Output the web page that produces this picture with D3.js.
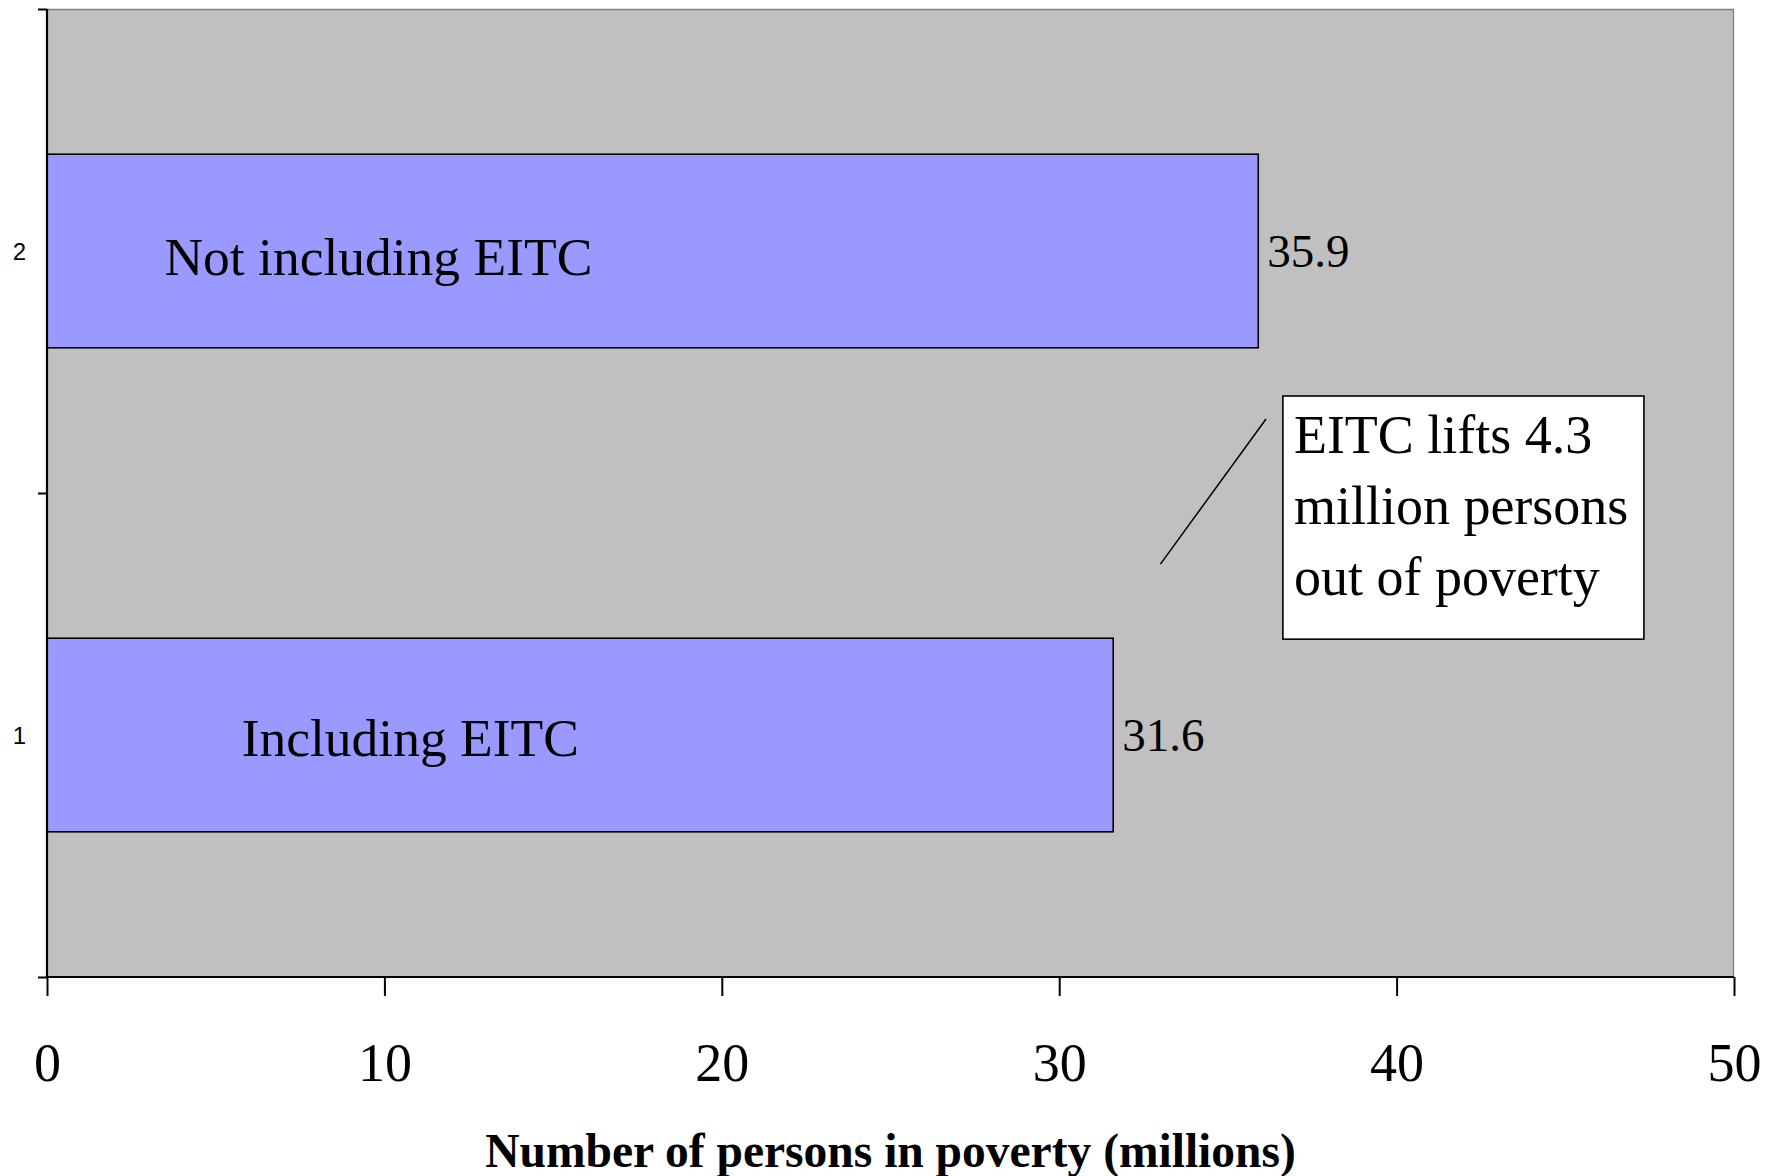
<!DOCTYPE html>
<html>
<head>
<meta charset="utf-8">
<script src="https://cdn.jsdelivr.net/npm/d3@7"></script>
<style>
  html, body { margin: 0; padding: 0; background: #ffffff; }
  svg { display: block; }
</style>
</head>
<body>
<script>
// Poverty counts with and without the Earned Income Tax Credit
const categories = ["1", "2"];
const barLabels = ["Including EITC", "Not including EITC"];
const values = [31.6, 35.9];
const xTicks = [0, 10, 20, 30, 40, 50];
const xTitle = "Number of persons in poverty (millions)";
const noteLines = ["EITC lifts 4.3", "million persons", "out of poverty"];

const W = 1779, H = 1176;
const margin = { left: 47, top: 9, right: 45, bottom: 199 };
const iw = W - margin.left - margin.right;
const ih = H - margin.top - margin.bottom;

const serif = "'Liberation Serif', 'Times New Roman', serif";
const sans = "'Liberation Sans', Arial, sans-serif";

const svg = d3.select("body").append("svg")
  .attr("width", W).attr("height", H);

const g = svg.append("g").attr("transform", `translate(${margin.left},${margin.top})`);

const x = d3.scaleLinear().domain([0, 50]).range([0, iw]);
const y = d3.scaleBand().domain(categories).range([ih, 0])
  .paddingInner(0.6).paddingOuter(0.3);
const yEdge = d3.scaleLinear().domain([0, categories.length]).range([ih, 0]);

// plot area
g.append("rect").attr("width", iw).attr("height", ih).attr("fill", "#c0c0c0");
g.append("path")
  .attr("d", `M0,0.5H${iw - 0.5}V${ih}`)
  .attr("fill", "none").attr("stroke", "#808080").attr("stroke-width", 1.3);

// bars
g.selectAll("rect.bar").data(values).join("rect")
  .attr("class", "bar")
  .attr("x", 0)
  .attr("y", (d, i) => y(categories[i]))
  .attr("width", d => x(d))
  .attr("height", y.bandwidth())
  .attr("fill", "#9999ff")
  .attr("stroke", "#000").attr("stroke-width", 1.6);

// value labels at bar ends
g.selectAll("text.val").data(values).join("text")
  .attr("class", "val")
  .attr("x", d => x(d) + 9)
  .attr("y", (d, i) => y(categories[i]) + y.bandwidth() / 2 + 16)
  .attr("font-family", serif).attr("font-size", 47)
  .text(d => d.toFixed(1));

// labels inside bars (start positions in axis units)
const labelStart = [5.77, 3.48];
g.selectAll("text.inbar").data(barLabels).join("text")
  .attr("class", "inbar")
  .attr("x", (d, i) => x(labelStart[i]))
  .attr("y", (d, i) => y(categories[i]) + y.bandwidth() / 2 + (i === 0 ? 21 : 24))
  .attr("font-family", serif).attr("font-size", 53.5)
  .text(d => d);

// annotation with leader line
const noteBox = { x0: 36.63, x1: 47.33, y0: 1.2004, y1: 0.698 };
g.append("line")
  .attr("x1", x(33.0)).attr("y1", yEdge(0.853))
  .attr("x2", x(36.13)).attr("y2", yEdge(1.153))
  .attr("stroke", "#000").attr("stroke-width", 1.5);
g.append("rect")
  .attr("x", x(noteBox.x0)).attr("y", yEdge(noteBox.y0))
  .attr("width", x(noteBox.x1) - x(noteBox.x0))
  .attr("height", yEdge(noteBox.y1) - yEdge(noteBox.y0))
  .attr("fill", "#fff").attr("stroke", "#000").attr("stroke-width", 1.6);
g.selectAll("text.note").data(noteLines).join("text")
  .attr("class", "note")
  .attr("x", x(noteBox.x0) + 11)
  .attr("y", (d, i) => yEdge(noteBox.y0) + 57 + i * 71)
  .attr("font-family", serif).attr("font-size", 54)
  .text(d => d);

// x axis
const xa = g.append("g").attr("transform", `translate(0,${ih})`)
  .call(d3.axisBottom(x).tickValues(xTicks).tickSize(19).tickSizeOuter(0).tickFormat(d3.format("d")));
xa.select(".domain").remove();
xa.selectAll(".tick line").attr("stroke", "#000").attr("stroke-width", 2);
xa.selectAll(".tick text")
  .attr("y", 104).attr("dy", null)
  .attr("font-family", serif).attr("font-size", 54).attr("fill", "#000");
g.append("line").attr("x1", 0).attr("x2", iw).attr("y1", ih).attr("y2", ih)
  .attr("stroke", "#000").attr("stroke-width", 2.2);

// y axis: ticks on category boundaries, labels at band centres
const ya = g.append("g")
  .call(d3.axisLeft(yEdge).tickValues(d3.range(categories.length + 1)).tickSize(9).tickFormat(() => ""));
ya.select(".domain").remove();
ya.selectAll(".tick line").attr("stroke", "#000").attr("stroke-width", 2);
ya.selectAll(".tick text").remove();
g.append("g").selectAll("text").data(categories).join("text")
  .attr("x", -21)
  .attr("y", d => y(d) + y.bandwidth() / 2 + 8.5)
  .attr("text-anchor", "end")
  .attr("font-family", sans).attr("font-size", 24).attr("fill", "#000")
  .text(d => d);
g.append("line").attr("x1", 0).attr("x2", 0).attr("y1", 0).attr("y2", ih)
  .attr("stroke", "#000").attr("stroke-width", 2.2);

// axis title
svg.append("text")
  .attr("x", margin.left + iw / 2).attr("y", 1167)
  .attr("text-anchor", "middle")
  .attr("font-family", serif).attr("font-size", 47.5).attr("font-weight", "bold")
  .text(xTitle);
</script>
</body>
</html>
